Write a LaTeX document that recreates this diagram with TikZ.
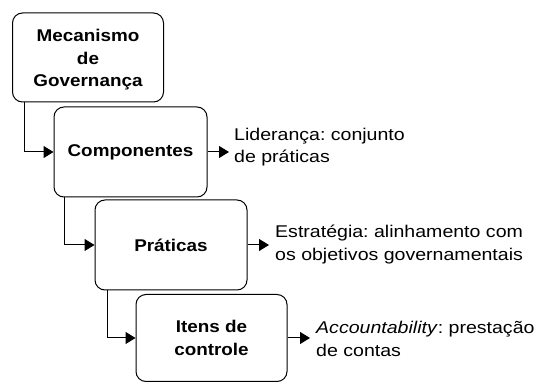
\documentclass[tikz,border=0pt]{standalone}
\usepackage{fontspec}
\setmainfont{Liberation Sans}[FakeStretch=1.15, BoldFeatures={FakeStretch=1.11}, BoldItalicFeatures={FakeStretch=1.11}]
\usetikzlibrary{arrows.meta}
\frenchspacing
\tikzset{
  box/.style={draw, line width=1pt, rounded corners=10pt, align=center, font=\fontsize{17}{22.5}\selectfont\bfseries, inner sep=0pt},
  lab/.style={anchor=west, align=left, inner sep=0pt, font=\fontsize{17}{22.5}\selectfont},
  conn/.style={line width=1pt, -{Triangle[length=10pt,width=12pt]}}
}
\begin{document}
\begin{tikzpicture}[x=1pt,y=-1pt]
\useasboundingbox (0,0) rectangle (542,382);
\node[box, minimum width=151pt, minimum height=89pt] (b1) at (88,57.5) {};
\node[align=center, font=\fontsize{17}{22.5}\selectfont\bfseries, inner sep=0pt] (t1) at (b1.center) [yshift=-2.5pt] {Mecanismo\\de\\Governança};
\node[box, minimum width=153pt, minimum height=90pt] (b2) at (130.5,152) {Componentes};
\node[box, minimum width=152pt, minimum height=90pt] (b3) at (171,245) {Práticas};
\node[box, minimum width=151pt, minimum height=87pt] (b4) at (211.5,338) {Itens de\\controle};
\node[lab] (l1) at (234,147) {Liderança: conjunto\\de práticas};
\node[lab] (l2) at (275,244.5) {Estratégia: alinhamento com\\os objetivos governamentais};
\node[lab] (l3) at (316,339) {\textit{Accountability}: prestação\\de contas};
\coordinate (v1) at (24,0);
\coordinate (v2) at (64,0);
\coordinate (v3) at (107,0);
\draw[conn] (b1.south -| v1) |- (b2.west);
\draw[conn] (b2.south -| v2) |- (b3.west);
\draw[conn] (b3.south -| v3) |- (b4.west);
\draw[conn, shorten >=5pt] (b2.east) -- (b2.east -| l1.west);
\draw[conn, shorten >=6pt] (b3.east) -- (b3.east -| l2.west);
\draw[conn, shorten >=6pt] (b4.east) -- (b4.east -| l3.west);
\end{tikzpicture}
\end{document}
